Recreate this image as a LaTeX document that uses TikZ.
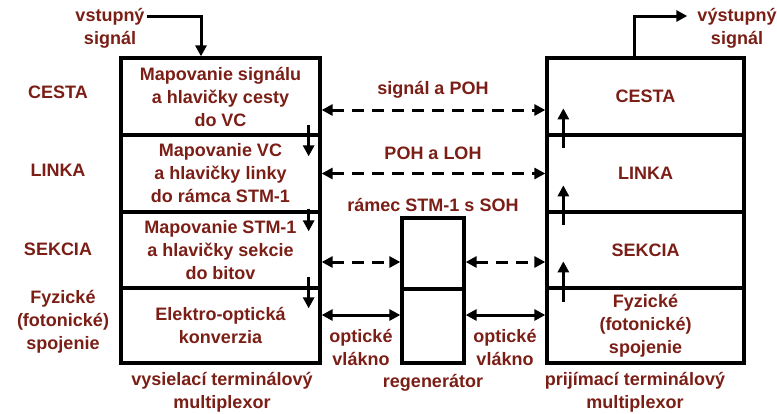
\documentclass[tikz,border=0pt]{standalone}
\usepackage{fontspec}
\setmainfont{Liberation Sans}
\usetikzlibrary{arrows.meta, positioning}
\definecolor{lbl}{RGB}{122,30,22}

\begin{document}
\begin{tikzpicture}[x=1pt, y=-1pt,
    txt/.style={text=lbl, align=center, inner sep=2pt, font=\fontsize{18}{23}\selectfont\bfseries},
    layer/.style={txt, draw=black, line width=3.3pt, minimum width=#1, minimum height=77pt},
    sig/.style={line width=3pt, -{Triangle[length=11pt,width=11pt]}},
    dsig/.style={line width=3pt, {Triangle[length=11pt,width=11pt]}-{Triangle[length=11pt,width=11pt]}},
    dash sig/.style={dsig, dash pattern=on 12pt off 8pt}]
      \useasboundingbox (0,0) rectangle (777,413);

      % Transmitting multiplexer
      \node[layer=199pt] (l1) at (220.5,96.5) {Mapovanie signálu\\a hlavičky cesty\\do VC};
      \node[layer=199pt] (l2) at (220.5,173.5) {Mapovanie VC\\a hlavičky linky\\do rámca STM-1};
      \node[layer=199pt, minimum height=76pt] (l3) at (220.5,250) {Mapovanie STM-1\\a hlavičky sekcie\\do bitov};
      \node[layer=199pt, minimum height=75pt] (l4) at (220.5,325.5) {Elektro-optická\\konverzia};

      % Receiving multiplexer
      \node[layer=197pt] (r1) at (645.5,96.5) {CESTA};
      \node[layer=197pt] (r2) at (645.5,173.5) {LINKA};
      \node[layer=197pt, minimum height=76pt] (r3) at (645.5,250) {SEKCIA};
      \node[layer=197pt, minimum height=75pt] (r4) at (645.5,325.5) {Fyzické\\(fotonické)\\spojenie};

      % Regenerator
      \node[layer=62pt, minimum height=71pt] (g1) at (433,253.5) {};
      \node[layer=62pt, minimum height=74pt] (g2) at (433,326) {};

      % Layer names
      \node[txt] (cesta) at (58,92) {CESTA};
      \node[txt] (linka) at (58,170) {LINKA};
      \node[txt] (sekcia) at (58,249) {SEKCIA};
      \node[txt] (fyz) at (63,322) {Fyzické\\(fotonické)\\spojenie};

      % Signals in and out
      \node[txt] (in) at (110,28) {vstupný\\signál};
      \node[txt] (out) at (737,28) {výstupný\\signál};
      \draw[sig] ([yshift=12pt]in.east) -| ([xshift=-19.5pt]l1.north);
      \draw[sig, shorten >=8pt] ([xshift=-11.5pt]r1.north) |- ([yshift=12pt]out.west);

      % Peer links
      \node[txt] (poh) at (433,90) {signál a POH};
      \node[txt] (loh) at (433,153) {POH a LOH};
      \node[txt] (soh) at (433,205) {rámec STM-1 s SOH};
      \draw[dash sig] ([yshift=-13.5pt]l1.east) -- ([yshift=-13.5pt]r1.west);
      \draw[dash sig] (l2.east) -- (r2.west);
      \draw[dash sig] ([yshift=-12pt]l3.east) -- ([yshift=-8.5pt]g1.west);
      \draw[dash sig] ([yshift=-8.5pt]g1.east) -- ([yshift=-12pt]r3.west);
      \draw[dsig] ([yshift=10.5pt]l4.east) -- ([yshift=11pt]g2.west);
      \draw[dsig] ([yshift=11pt]g2.east) -- ([yshift=10.5pt]r4.west);
      \node[txt] (vl1) at (361,347) {optické\\vlákno};
      \node[txt] (vl2) at (505,347) {optické\\vlákno};

      % Down through the layers
      \draw[sig] ([xshift=-13pt,yshift=12pt]l1.south east) -- ([xshift=-13pt,yshift=-23pt]l2.north east);
      \draw[sig] ([xshift=-13pt,yshift=5pt]l2.south east) -- ([xshift=-13pt,yshift=-21pt]l3.north east);
      \draw[sig] ([xshift=-13pt,yshift=13pt]l3.south east) -- ([xshift=-13pt,yshift=-22pt]l4.north east);

      % Up through the layers
      \draw[sig] ([xshift=18pt,yshift=-11pt]r1.south west) -- ([xshift=18pt,yshift=25pt]r2.north west);
      \draw[sig] ([xshift=18pt,yshift=-11pt]r2.south west) -- ([xshift=18pt,yshift=25pt]r3.north west);
      \draw[sig] ([xshift=18pt,yshift=-12pt]r3.south west) -- ([xshift=18pt,yshift=25pt]r4.north west);

      % Captions
      \node[txt] (tx) at (222,392) {vysielací terminálový\\multiplexor};
      \node[txt] (reg) at (433,383) {regenerátor};
      \node[txt] (rx) at (635,392) {prijímací terminálový\\multiplexor};
    \end{tikzpicture}
\end{document}
